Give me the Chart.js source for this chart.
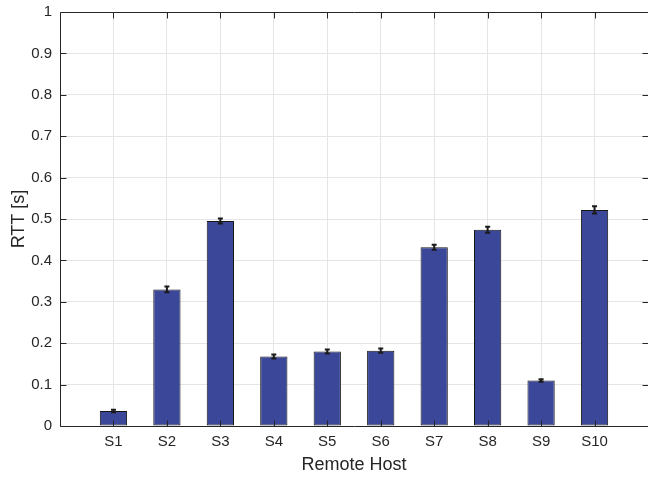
<!DOCTYPE html>
<html>
<head>
<meta charset="utf-8">
<script src="https://cdn.jsdelivr.net/npm/chart.js@4"></script>
<style>
  body { margin: 0; background: #fff; }
  #wrap { width: 648px; height: 477px; }
</style>
</head>
<body>
<div id="wrap"><canvas id="rtt" width="648" height="477"></canvas></div>
<script>
// RTT per remote host (mean and error half-width, seconds)
const categories = ['S1', 'S2', 'S3', 'S4', 'S5', 'S6', 'S7', 'S8', 'S9', 'S10'];
const rttMean = [0.036, 0.330, 0.495, 0.168, 0.180, 0.182, 0.432, 0.474, 0.110, 0.522];
const rttErr = [0.003, 0.007, 0.006, 0.005, 0.005, 0.005, 0.006, 0.007, 0.003, 0.009];
const yTicks = [0, 0.1, 0.2, 0.3, 0.4, 0.5, 0.6, 0.7, 0.8, 0.9, 1];
const xTicks = [0, 1, 2, 3, 4, 5, 6, 7, 8, 9, 10, 11];

const FONT = "'Liberation Sans', Arial, Helvetica, sans-serif";
const AXIS_COLOR = '#262626';

// error bars, drawn through the chart's scales
const errorBars = {
    id: 'errorBars',
    afterDatasetsDraw(chart) {
        const { ctx, scales: { x, y } } = chart;
        ctx.save();
        ctx.strokeStyle = '#1a1a1a';
        ctx.lineWidth = 2;
        rttMean.forEach((m, i) => {
            const px = x.getPixelForValue(i + 1);
            const top = y.getPixelForValue(m + rttErr[i]);
            const bot = y.getPixelForValue(m - rttErr[i]);
            ctx.beginPath();
            ctx.moveTo(px, top); ctx.lineTo(px, bot);
            ctx.moveTo(px - 2.5, top); ctx.lineTo(px + 2.5, top);
            ctx.moveTo(px - 2.5, bot); ctx.lineTo(px + 2.5, bot);
            ctx.stroke();
        });
        ctx.restore();
    }
};

// matlab style box with inward ticks (right edge falls just past the canvas)
const boxAxes = {
    id: 'boxAxes',
    afterDraw(chart) {
        const { ctx, chartArea: a, scales: { x, y } } = chart;
        const L = Math.round(a.left) + 0.5, R = Math.round(a.right) + 0.5;
        const T = Math.round(a.top) + 0.5, B = Math.round(a.bottom) + 0.5;
        const tick = 6;
        ctx.save();
        ctx.strokeStyle = AXIS_COLOR;
        ctx.lineWidth = 1;
        ctx.beginPath();
        ctx.rect(L, T, R - L, B - T);
        yTicks.forEach(v => {
            const py = Math.round(y.getPixelForValue(v)) + 0.5;
            ctx.moveTo(L, py); ctx.lineTo(L + tick, py);
            ctx.moveTo(R, py); ctx.lineTo(R - tick, py);
        });
        categories.forEach((c, i) => {
            const px = Math.round(x.getPixelForValue(i + 1)) + 0.5;
            ctx.moveTo(px, B); ctx.lineTo(px, B - tick);
            ctx.moveTo(px, T); ctx.lineTo(px, T + tick);
        });
        ctx.stroke();
        ctx.restore();
    }
};

new Chart(document.getElementById('rtt'), {
    type: 'bar',
    data: {
        datasets: [{
            data: rttMean.map((v, i) => ({ x: i + 1, y: v })),
            backgroundColor: '#3b4799',
            borderColor: '#161616',
            borderWidth: 1,
            borderSkipped: false,
            barPercentage: 0.51,
            categoryPercentage: 1
        }]
    },
    options: {
        responsive: false,
        animation: false,
        layout: { padding: { left: 0, top: 12, right: -1, bottom: 0 } },
        plugins: {
            legend: { display: false },
            tooltip: { enabled: false }
        },
        scales: {
            x: {
                type: 'linear',
                min: 0,
                max: 11,
                offset: false,
                afterBuildTicks: s => { s.ticks = xTicks.map(v => ({ value: v })); },
                afterFit: s => { s.height = 51; s.paddingLeft = 0; s.paddingRight = -1; },
                grid: {
                    offset: false,
                    drawTicks: false,
                    color: ctx => (ctx.tick && ctx.tick.value > 0 && ctx.tick.value < 11) ? '#e5e5e5' : 'rgba(0,0,0,0)'
                },
                border: { display: false },
                ticks: {
                    autoSkip: false,
                    maxRotation: 0,
                    padding: 7,
                    color: AXIS_COLOR,
                    font: { family: FONT, size: 15 },
                    callback: v => categories[v - 1] || ''
                },
                title: {
                    display: true,
                    text: 'Remote Host',
                    color: AXIS_COLOR,
                    font: { family: FONT, size: 18 },
                    padding: { top: 0, bottom: 1.5 }
                }
            },
            y: {
                min: 0,
                max: 1,
                afterBuildTicks: s => { s.ticks = yTicks.map(v => ({ value: v })); },
                afterFit: s => { s.width = 60; s.paddingTop = 0; s.paddingBottom = 0; },
                grid: {
                    drawTicks: false,
                    color: ctx => (ctx.tick && ctx.tick.value > 0 && ctx.tick.value < 1) ? '#e5e5e5' : 'rgba(0,0,0,0)'
                },
                border: { display: false },
                ticks: {
                    padding: 8,
                    color: AXIS_COLOR,
                    font: { family: FONT, size: 15 },
                    callback: v => String(v)
                },
                title: {
                    display: true,
                    text: 'RTT [s]',
                    color: AXIS_COLOR,
                    font: { family: FONT, size: 18 },
                    padding: { top: 8, bottom: 0 }
                }
            }
        }
    },
    plugins: [errorBars, boxAxes]
});
</script>
</body>
</html>
